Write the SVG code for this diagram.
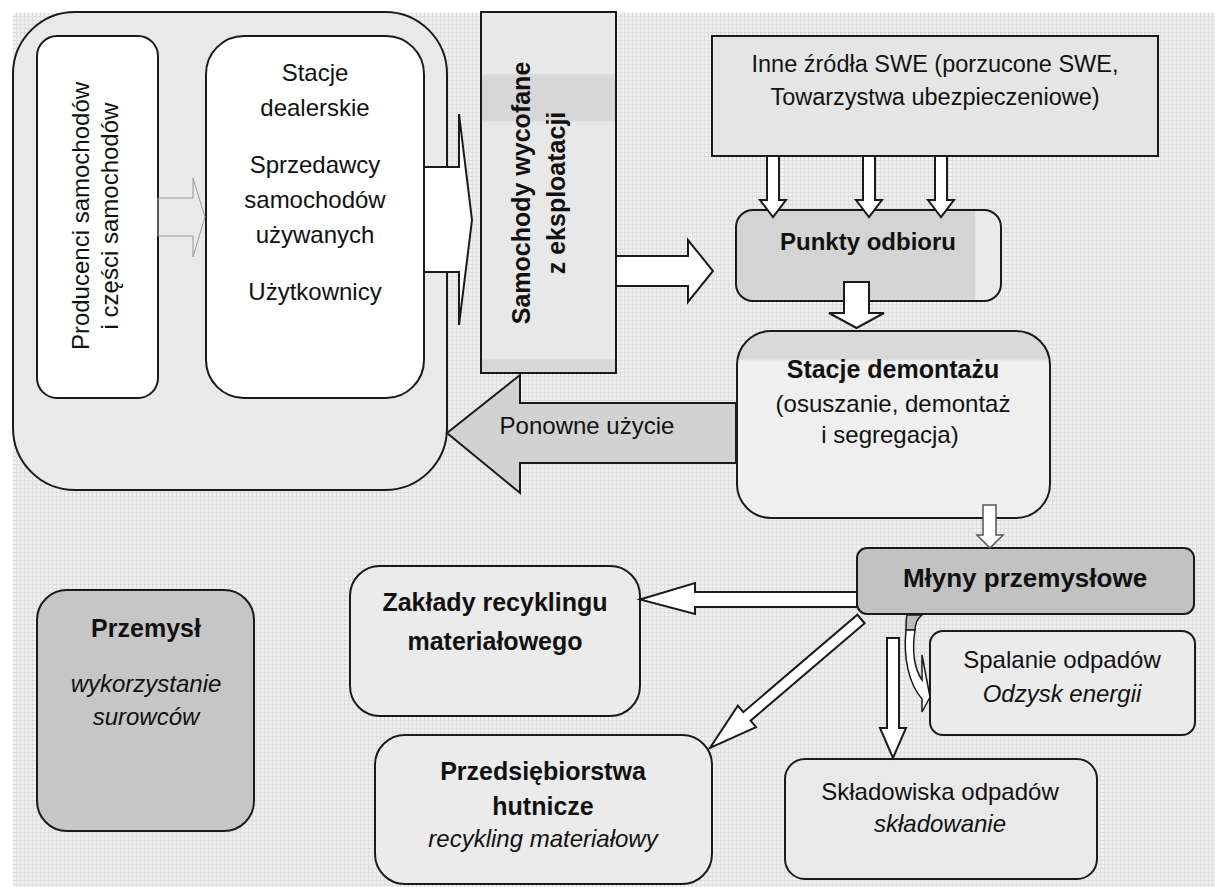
<svg xmlns="http://www.w3.org/2000/svg" width="1215" height="887" viewBox="0 0 1215 887">
<defs>
<pattern id="grid" width="4" height="4" patternUnits="userSpaceOnUse">
<rect width="4" height="4" fill="#efefef"/>
<path d="M0 0.5H4M0.5 0V4" stroke="#dedede" stroke-width="1"/>
</pattern>
<linearGradient id="demGrad" x1="0" y1="0" x2="0" y2="1">
<stop offset="0" stop-color="#d9d9d9"/>
<stop offset="0.15" stop-color="#d9d9d9"/>
<stop offset="0.16" stop-color="#efefef"/>
<stop offset="1" stop-color="#efefef"/>
</linearGradient>
<linearGradient id="samGrad" x1="0" y1="0" x2="0" y2="1">
<stop offset="0" stop-color="#e8e8e8"/>
<stop offset="0.17" stop-color="#e8e8e8"/>
<stop offset="0.175" stop-color="#d7d7d7"/>
<stop offset="0.3" stop-color="#d7d7d7"/>
<stop offset="0.305" stop-color="#e8e8e8"/>
<stop offset="0.96" stop-color="#e8e8e8"/>
<stop offset="0.965" stop-color="#d7d7d7"/>
<stop offset="1" stop-color="#d7d7d7"/>
</linearGradient>
<linearGradient id="punGrad" x1="0" y1="0" x2="1" y2="0">
<stop offset="0" stop-color="#d4d4d4"/>
<stop offset="0.9" stop-color="#d4d4d4"/>
<stop offset="0.905" stop-color="#e9e9e9"/>
<stop offset="1" stop-color="#e9e9e9"/>
</linearGradient>
</defs>
<style>
.box{stroke:#1a1a1a;stroke-width:2}
.arr{fill:#ffffff;stroke:#1a1a1a;stroke-width:2;stroke-linejoin:miter}
.t{font-family:"Liberation Sans",Arial,sans-serif;font-size:24px;fill:#111;text-anchor:middle}
.b{font-weight:bold;font-size:25px}
.i{font-style:italic}
</style>
<rect x="0" y="0" width="1215" height="887" fill="#ffffff"/>
<rect x="13" y="13" width="1202" height="874" fill="url(#grid)"/>

<g id="grupa-rynek">
<rect class="box" x="13" y="12" width="434" height="478" rx="62" fill="#e9e9e9"/>
</g>
<g id="producenci">
<rect class="box" x="37" y="36" width="121" height="362" rx="20" fill="#ffffff"/>
<text class="t" transform="translate(89,216) rotate(-90)">Producenci samochodów</text>
<text class="t" transform="translate(118,216) rotate(-90)">i części samochodów</text>
</g>
<g id="stacje-dealerskie">
<rect class="box" x="206" y="36" width="218" height="362" rx="38" fill="#ffffff"/>
<text class="t" x="315" y="81">Stacje</text>
<text class="t" x="315" y="116">dealerskie</text>
<text class="t" x="315" y="173">Sprzedawcy</text>
<text class="t" x="315" y="208">samochodów</text>
<text class="t" x="315" y="243">używanych</text>
<text class="t" x="315" y="300">Użytkownicy</text>
</g>
<g id="samochody-wycofane">
<rect class="box" x="481" y="12" width="135" height="361" fill="url(#samGrad)"/>
<text class="t b" transform="translate(530,193) rotate(-90)">Samochody wycofane</text>
<text class="t b" transform="translate(565,193) rotate(-90)">z eksploatacji</text>
</g>
<g id="inne-zrodla">
<rect class="box" x="712" y="36" width="446" height="120" fill="#e5e5e5"/>
<text class="t" x="935" y="72" style="font-size:23.5px">Inne źródła SWE (porzucone SWE,</text>
<text class="t" x="935" y="105" style="font-size:23.5px">Towarzystwa ubezpieczeniowe)</text>
</g>
<g id="punkty-odbioru">
<rect class="box" x="736" y="210" width="265" height="91" rx="17" fill="url(#punGrad)"/>
<text class="t b" x="868" y="250" style="font-size:24px">Punkty odbioru</text>
</g>
<g id="stacje-demontazu">
<rect class="box" x="737" y="331" width="313" height="187" rx="34" fill="url(#demGrad)"/>
<text class="t b" x="893" y="378">Stacje demontażu</text>
<text class="t" x="893" y="412">(osuszanie, demontaż</text>
<text class="t" x="890" y="443">i segregacja)</text>
</g>
<g id="mlyny">
<rect class="box" x="857" y="548" width="337" height="66" rx="10" fill="#c2c2c2"/>
<text class="t b" x="1025" y="587" style="font-size:26px">Młyny przemysłowe</text>
</g>
<g id="zaklady-recyklingu">
<rect class="box" x="350" y="566" width="290" height="150" rx="30" fill="#ebebeb"/>
<text class="t b" x="495" y="611">Zakłady recyklingu</text>
<text class="t b" x="495" y="650">materiałowego</text>
</g>
<g id="przedsiebiorstwa-hutnicze">
<rect class="box" x="375" y="735" width="337" height="149" rx="30" fill="#ebebeb"/>
<text class="t b" x="543" y="780">Przedsiębiorstwa</text>
<text class="t b" x="543" y="815">hutnicze</text>
<text class="t i" x="543" y="847">recykling materiałowy</text>
</g>
<g id="spalanie">
<rect class="box" x="930" y="631" width="265" height="104" rx="13" fill="#ebebeb"/>
<text class="t" x="1062" y="668">Spalanie odpadów</text>
<text class="t i" x="1062" y="702">Odzysk energii</text>
</g>
<g id="skladowiska">
<rect class="box" x="785" y="759" width="312" height="120" rx="20" fill="#e9e9e9"/>
<text class="t" x="940" y="800">Składowiska odpadów</text>
<text class="t i" x="940" y="832">składowanie</text>
</g>
<g id="przemysl">
<rect class="box" x="37" y="590" width="217" height="241" rx="30" fill="#c6c6c6"/>
<text class="t b" x="146" y="637">Przemysł</text>
<text class="t i" x="146" y="692">wykorzystanie</text>
<text class="t i" x="146" y="725">surowców</text>
</g>

<g id="connectors">
<polygon points="158,198 193,198 193,178 205,217 193,257 193,236 158,236" fill="none" stroke="#9a9a9a" stroke-width="1"/>
<polygon class="arr" points="424,167 459,167 459,114 472,220 459,325 459,272 424,272"/>
<polygon class="arr" points="616,256 688,256 688,240 713,271 688,302 688,286 616,286"/>
<polygon class="arr" points="767,156 779,156 779,200 786,200 773,217 760,200 767,200"/>
<polygon class="arr" points="863,156 875,156 875,200 882,200 869,217 856,200 863,200"/>
<polygon class="arr" points="935,156 947,156 947,200 954,200 941,217 928,200 935,200"/>
<polygon class="arr" points="844,282 869,282 869,313 884,313 856.5,328 829,313 844,313"/>
<g id="ponowne-uzycie">
<polygon points="736,403 520,403 520,375 447,433 520,493 520,463 736,463" fill="#d2d2d2" stroke="#1a1a1a" stroke-width="2"/>
<text class="t" x="587" y="434">Ponowne użycie</text>
</g>
<polygon points="983,505 996,505 996,535 1003,535 990,548 977,535 983,535" fill="#ffffff" stroke="#555" stroke-width="1.5"/>
<polygon class="arr" points="857,592 695,592 695,583 640,599.5 695,614 695,607 857,607"/>
<polygon class="arr" transform="translate(861,619) rotate(139.5)" points="0,-5.6 150,-5.6 150,-14 198.6,0 150,14 150,5.6 0,5.6"/>
<polygon class="arr" points="887,638 899,638 899,728 906,728 893,758 880,728 887,728"/>
<path d="M907 615 L922 615 C917 619 915 624 915 630 L906 630 C906 624 906 619 907 615 Z" fill="#bdbdbd" stroke="#1a1a1a" stroke-width="1.5"/>
<path d="M906 630 C903 658 909 684 922 699 L922 712 L930 697 L922 655 L922 680 C914 668 912 650 915 630 Z" fill="#ffffff" stroke="#1a1a1a" stroke-width="1.5"/>
</g>
</svg>
